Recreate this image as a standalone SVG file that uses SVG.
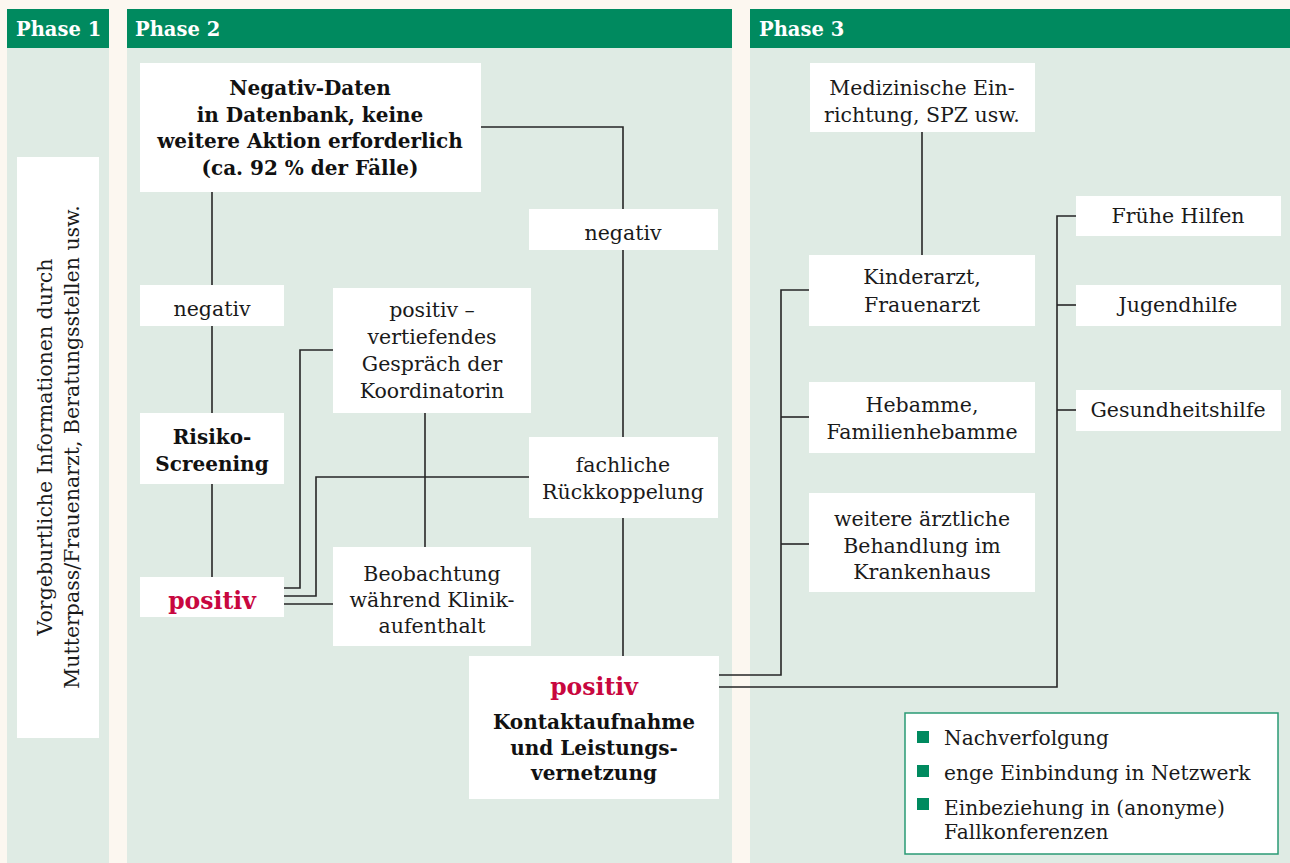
<svg xmlns="http://www.w3.org/2000/svg" width="1290" height="863" viewBox="0 0 1290 863">
<style>
.bg{fill:#fcf7f0}
.col{fill:#dfebe4}
.hd{fill:#008a5f}
.hdt{font-family:"DejaVu Serif","Liberation Serif",serif;font-weight:bold;font-size:19.5px;fill:#ffffff}
.box{fill:#ffffff}
.t{font-family:"DejaVu Serif","Liberation Serif",serif;font-size:20.5px;fill:#1a1a1a;text-anchor:middle}
.b{font-family:"DejaVu Serif","Liberation Serif",serif;font-size:20px;font-weight:bold;fill:#111111;text-anchor:middle}
.red{font-family:"DejaVu Serif","Liberation Serif",serif;font-size:23.5px;font-weight:bold;fill:#c8073f;text-anchor:middle}
.lt{font-family:"DejaVu Serif","Liberation Serif",serif;font-size:20.2px;fill:#1a1a1a}
.c{fill:none;stroke:#262626;stroke-width:1.6}
.sq{fill:#008a5f}
</style>
<rect class="bg" x="0" y="0" width="1290" height="863"/>
<g id="phase1">
<rect class="col" x="7" y="9" width="102" height="854"/>
<rect class="hd" x="7" y="9" width="102" height="39"/>
<text class="hdt" x="16" y="36">Phase 1</text>
</g>
<g id="phase2">
<rect class="col" x="127" y="9" width="605" height="854"/>
<rect class="hd" x="127" y="9" width="605" height="39"/>
<text class="hdt" x="135" y="36">Phase 2</text>
</g>
<g id="phase3">
<rect class="col" x="750" y="9" width="540" height="854"/>
<rect class="hd" x="750" y="9" width="540" height="39"/>
<text class="hdt" x="759" y="36">Phase 3</text>
</g>
<g id="connectors">
<path class="c" d="M212 192V577"/>
<path class="c" d="M481 127H623V656"/>
<path class="c" d="M425 413V547"/>
<path class="c" d="M284 588H300V350H333"/>
<path class="c" d="M284 596H316V477H529"/>
<path class="c" d="M284 604H333"/>
<path class="c" d="M719 675H781V290H809"/>
<path class="c" d="M781 417H809"/>
<path class="c" d="M781 544H809"/>
<path class="c" d="M719 687H1057V216H1076"/>
<path class="c" d="M1057 305H1076"/>
<path class="c" d="M1057 410H1076"/>
<path class="c" d="M922 132V255"/>
</g>
<g id="n-vorgeburtlich">
<rect class="box" x="17" y="157" width="82" height="581"/>
<text class="t" transform="translate(52 447) rotate(-90)" x="0" y="0">Vorgeburtliche Informationen durch</text>
<text class="t" transform="translate(79 447) rotate(-90)" x="0" y="0">Mutterpass/Frauenarzt, Beratungsstellen usw.</text>
</g>
<g id="n-negativdaten">
<rect class="box" x="140" y="63" width="341" height="129"/>
<text class="b" x="310" y="95">Negativ-Daten</text>
<text class="b" x="310" y="122">in Datenbank, keine</text>
<text class="b" x="310" y="148">weitere Aktion erforderlich</text>
<text class="b" x="310" y="175">(ca. 92 % der Fälle)</text>
</g>
<g id="n-negativ1">
<rect class="box" x="140" y="285" width="144" height="41"/>
<text class="t" x="212" y="316">negativ</text>
</g>
<g id="n-risiko">
<rect class="box" x="140" y="413" width="144" height="71"/>
<text class="b" x="212" y="444">Risiko-</text>
<text class="b" x="212" y="471">Screening</text>
</g>
<g id="n-positiv1">
<rect class="box" x="140" y="577" width="144" height="40"/>
<text class="red" x="212" y="609">positiv</text>
</g>
<g id="n-gespraech">
<rect class="box" x="333" y="288" width="198" height="125"/>
<text class="t" x="432" y="317">positiv –</text>
<text class="t" x="432" y="344">vertiefendes</text>
<text class="t" x="432" y="371">Gespräch der</text>
<text class="t" x="432" y="398">Koordinatorin</text>
</g>
<g id="n-beobachtung">
<rect class="box" x="333" y="547" width="198" height="99"/>
<text class="t" x="432" y="581">Beobachtung</text>
<text class="t" x="432" y="607">während Klinik-</text>
<text class="t" x="432" y="633">aufenthalt</text>
</g>
<g id="n-negativ2">
<rect class="box" x="529" y="209" width="189" height="41"/>
<text class="t" x="623" y="240">negativ</text>
</g>
<g id="n-rueckkoppelung">
<rect class="box" x="529" y="437" width="189" height="81"/>
<text class="t" x="623" y="472">fachliche</text>
<text class="t" x="623" y="499">Rückkoppelung</text>
</g>
<g id="n-kontakt">
<rect class="box" x="469" y="656" width="250" height="143"/>
<text class="red" x="594" y="695">positiv</text>
<text class="b" x="594" y="729">Kontaktaufnahme</text>
<text class="b" x="594" y="755">und Leistungs-</text>
<text class="b" x="594" y="780">vernetzung</text>
</g>
<g id="n-medizinisch">
<rect class="box" x="810" y="63" width="225" height="69"/>
<text class="t" x="922" y="95">Medizinische Ein-</text>
<text class="t" x="922" y="122">richtung, SPZ usw.</text>
</g>
<g id="n-kinderarzt">
<rect class="box" x="809" y="255" width="226" height="71"/>
<text class="t" x="922" y="284">Kinderarzt,</text>
<text class="t" x="922" y="312">Frauenarzt</text>
</g>
<g id="n-hebamme">
<rect class="box" x="809" y="382" width="226" height="71"/>
<text class="t" x="922" y="412">Hebamme,</text>
<text class="t" x="922" y="439">Familienhebamme</text>
</g>
<g id="n-weitere">
<rect class="box" x="809" y="493" width="226" height="99"/>
<text class="t" x="922" y="526">weitere ärztliche</text>
<text class="t" x="922" y="553">Behandlung im</text>
<text class="t" x="922" y="579">Krankenhaus</text>
</g>
<g id="n-fruehe">
<rect class="box" x="1076" y="196" width="205" height="40"/>
<text class="t" x="1178" y="223">Frühe Hilfen</text>
</g>
<g id="n-jugend">
<rect class="box" x="1076" y="285" width="205" height="41"/>
<text class="t" x="1178" y="312">Jugendhilfe</text>
</g>
<g id="n-gesund">
<rect class="box" x="1076" y="390" width="205" height="41"/>
<text class="t" x="1178" y="417">Gesundheitshilfe</text>
</g>
<g id="legend">
<rect x="905" y="713" width="373" height="141" fill="#ffffff" stroke="#2a9a74" stroke-width="1.5"/>
<rect class="sq" x="917" y="731" width="12" height="12"/>
<rect class="sq" x="917" y="765" width="12" height="12"/>
<rect class="sq" x="917" y="798" width="12" height="12"/>
<text class="lt" x="944" y="745">Nachverfolgung</text>
<text class="lt" x="944" y="780">enge Einbindung in Netzwerk</text>
<text class="lt" x="944" y="815">Einbeziehung in (anonyme)</text>
<text class="lt" x="944" y="839">Fallkonferenzen</text>
</g>
</svg>
